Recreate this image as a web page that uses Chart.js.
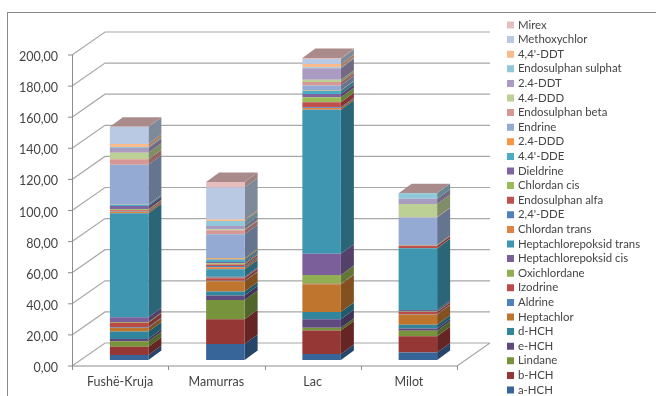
<!DOCTYPE html>
<html>
<head>
<meta charset="utf-8">
<style>
  html, body { margin: 0; padding: 0; background: #fff; }
  #wrap { position: relative; width: 656px; height: 396px; overflow: hidden; }
  #frame { position: absolute; left: 7px; top: 12px; right: -2px; bottom: -2px;
           border-left: 1px solid #8a8a8a; border-top: 1px solid #8a8a8a; }
  canvas { display: block; }
</style>
<script src="https://cdn.jsdelivr.net/npm/chart.js@4/dist/chart.umd.js"></script>
</head>
<body>
<div id="wrap"><canvas id="c" width="656" height="396"></canvas><div id="frame"></div></div>
<script>
const categories = ["Fushë-Kruja", "Mamurras", "Lac", "Milot"];
const yTicks = [0, 20, 40, 60, 80, 100, 120, 140, 160, 180, 200];

// Residue per site, listed from the bottom of each stack upward.
const aHCH        = [3.2, 10.3, 3.9, 4.9];
const bHCH        = [5.4, 15.9, 15.0, 10.3];
const lindane     = [3.4, 12.4, 1.9, 3.6];
const eHCH        = [1.5, 2.8, 5.4, 1.5];
const dHCH        = [4.9, 2.6, 4.7, 2.4];
const heptachlor  = [2.4, 6.6, 17.8, 6.6];
const aldrine     = [0.4, 0.4, 0.2, 0.3];
const izodrine    = [2.8, 1.5, 0.2, 1.3];
const oxichlordane = [0.5, 0.4, 5.6, 0.3];
const heptCis     = [3.0, 0.6, 13.7, 1.0];
const heptTrans   = [66.9, 4.9, 92.6, 39.7];
const chlordanTrans = [1.0, 1.2, 1.1, 0.1];
const dde24       = [0.2, 0.8, 0.4, 0.1];
const endoAlfa    = [0.7, 1.0, 3.2, 1.4];
const chlordanCis = [0.6, 0.8, 3.2, 0.1];
const dieldrine   = [2.1, 0.8, 2.1, 0.1];
const dde44       = [0.8, 1.6, 2.1, 0.1];
const ddd24       = [0.2, 0.9, 0.3, 0.1];
const endrine     = [25.5, 15.4, 3.2, 17.8];
const endoBeta    = [3.6, 2.6, 2.1, 0.2];
const ddd44       = [4.1, 0.6, 1.5, 8.4];
const ddt24       = [3.2, 2.1, 7.5, 3.4];
const endoSulphat = [0.6, 3.2, 0.6, 3.6];
const ddt44       = [1.9, 0.9, 2.1, 0];
const methoxychlor = [11.0, 20.6, 3.2, 0];
const mirex       = [0.1, 3.6, 0.6, 0];

const seriesNames = ["a-HCH", "b-HCH", "Lindane", "e-HCH", "d-HCH", "Heptachlor", "Aldrine", "Izodrine",
  "Oxichlordane", "Heptachlorepoksid cis", "Heptachlorepoksid trans", "Chlordan trans", "2,4'-DDE",
  "Endosulphan alfa", "Chlordan cis", "Dieldrine", "4.4'-DDE", "2.4-DDD", "Endrine", "Endosulphan beta",
  "4.4-DDD", "2.4-DDT", "Endosulphan sulphat", "4,4'-DDT", "Methoxychlor", "Mirex"];
const seriesValues = [aHCH, bHCH, lindane, eHCH, dHCH, heptachlor, aldrine, izodrine, oxichlordane, heptCis,
  heptTrans, chlordanTrans, dde24, endoAlfa, chlordanCis, dieldrine, dde44, ddd24, endrine, endoBeta, ddd44,
  ddt24, endoSulphat, ddt44, methoxychlor, mirex];
const seriesColors = ["#37659A", "#953735", "#77933C", "#5F4A80", "#31859C", "#C0752F", "#4F81BD", "#BC4A47",
  "#92AE52", "#7A5F9A", "#3F96B1", "#DF8344", "#4F81BD", "#C0504D", "#9BBB59", "#8064A2", "#4BACC6", "#F79646",
  "#95AAD3", "#D79895", "#BCD096", "#A99BC2", "#91C8D9", "#FABA8D", "#B9C9E3", "#E6BEBD"];

const TEXT = "#444444", WALL = "#a8a8a8", AXIS = "#8c8c8c", ROOF = "#A98B8C";
// Pseudo-3D geometry: bars stand between the front edge and the back wall of the floor.
const FRONT = { dx: -9, dy: 6 }, BACK = { dx: 24, dy: -17 }, BAR_DEPTH = { dx: 13, dy: -9.5 };

function shade(hex, k) {
  const n = parseInt(hex.slice(1), 16);
  return "rgb(" + [(n >> 16) & 255, (n >> 8) & 255, n & 255].map(v => Math.round(v * k)).join(",") + ")";
}

function face(ctx, pts, fill) {
  ctx.beginPath();
  pts.forEach((p, i) => i ? ctx.lineTo(p[0], p[1]) : ctx.moveTo(p[0], p[1]));
  ctx.closePath();
  ctx.fillStyle = fill;
  ctx.fill();
}

const box3d = {
  id: "box3d",
  afterLayout(chart) {
    // Sit the legend in the far right column of the canvas; the lower bound runs
    // past the canvas edge so the last row stays in the same column.
    const lg = chart.legend;
    lg.left = 505.55; lg.right = chart.width;
    lg.top = 16.1; lg.bottom = chart.height + 20;
  },
  beforeDatasetsDraw(chart) {
    const { ctx, chartArea: a, scales: { x, y } } = chart;
    const fx = a.left + FRONT.dx, bx = a.left + BACK.dx;
    const rx = a.right + FRONT.dx;
    ctx.save();
    ctx.lineWidth = 1.2;
    ctx.strokeStyle = WALL;
    ctx.beginPath();
    y.ticks.forEach(t => {
      const py = y.getPixelForValue(t.value);
      ctx.moveTo(fx, py + FRONT.dy);
      ctx.lineTo(bx, py + BACK.dy);
      ctx.lineTo(a.right + BACK.dx, py + BACK.dy);
    });
    const base = y.getPixelForValue(0);
    ctx.moveTo(rx, base + FRONT.dy);
    ctx.lineTo(a.right + BACK.dx, base + BACK.dy);
    ctx.stroke();

    ctx.strokeStyle = AXIS;
    ctx.lineWidth = 1;
    ctx.beginPath();
    ctx.moveTo(fx + 0.5, y.getPixelForValue(200) + FRONT.dy);
    ctx.lineTo(fx + 0.5, base + FRONT.dy);
    ctx.lineTo(rx, base + FRONT.dy);
    y.ticks.forEach(t => {
      const py = y.getPixelForValue(t.value) + FRONT.dy;
      ctx.moveTo(fx - 4, py);
      ctx.lineTo(fx, py);
    });
    const step = (a.right - a.left) / categories.length;
    for (let i = 0; i <= categories.length; i++) {
      const px = Math.round(fx + i * step) + 0.5;
      ctx.moveTo(px, base + FRONT.dy);
      ctx.lineTo(px, base + FRONT.dy + 4);
    }
    ctx.stroke();

    // Right-hand faces of every segment, then the roof of each stack.
    chart.data.datasets.forEach((ds, di) => {
      chart.getDatasetMeta(di).data.forEach(bar => {
        if (Math.abs(bar.base - bar.y) < 0.01) return;
        const r = bar.x + bar.width / 2;
        face(ctx, [[r, bar.y], [r + BAR_DEPTH.dx, bar.y + BAR_DEPTH.dy],
          [r + BAR_DEPTH.dx, bar.base + BAR_DEPTH.dy], [r, bar.base]], shade(seriesColors[di], 0.68));
      });
    });
    categories.forEach((_, ci) => {
      const segs = chart.data.datasets.map((_, di) => chart.getDatasetMeta(di).data[ci]);
      const topY = Math.min(...segs.map(s => s.y));
      const l = segs[0].x - segs[0].width / 2, r = l + segs[0].width;
      face(ctx, [[l, topY], [r, topY], [r + BAR_DEPTH.dx, topY + BAR_DEPTH.dy],
        [l + BAR_DEPTH.dx, topY + BAR_DEPTH.dy]], ROOF);
    });
    ctx.restore();
  }
};

new Chart(document.getElementById("c"), {
  type: "bar",
  data: {
    labels: categories,
    datasets: seriesNames.map((name, i) => ({
      label: name,
      data: seriesValues[i],
      backgroundColor: seriesColors[i],
      borderWidth: 0,
      barPercentage: 1,
      categoryPercentage: 0.4
    }))
  },
  options: {
    responsive: false,
    animation: false,
    events: [],
    layout: { padding: { right: 90 } },
    scales: {
      x: {
        stacked: true,
        grid: { display: false, drawTicks: false },
        border: { display: false },
        afterFit(s) { s.height = 36; },
        ticks: { padding: 14, labelOffset: -9, autoSkip: false, maxRotation: 0, color: TEXT,
                 font: { family: "Lato", size: 12.5 } }
      },
      y: {
        stacked: true,
        min: 0,
        max: 200,
        grid: { display: false, drawTicks: false },
        border: { display: false },
        afterFit(s) { s.width = 81; },
        afterBuildTicks(s) { s.ticks = yTicks.map(value => ({ value })); },
        ticks: { padding: 23, labelOffset: 8, color: TEXT,
                 font: { family: "Lato", size: 12.5 },
                 callback: v => Number(v).toFixed(2).replace(".", ",") }
      }
    },
    plugins: {
      tooltip: { enabled: false },
      // Blank title reserves the head room above the bar plane.
      title: { display: true, text: "", font: { size: 10, lineHeight: 1 }, padding: { top: 0, bottom: 39 } },
      legend: {
        position: "right",
        align: "start",
        maxWidth: 100,
        reverse: true,
        labels: {
          boxWidth: 3.5,
          boxHeight: 3.5,
          padding: 3.2,
          color: TEXT,
          font: { family: "Lato", size: 11.4 },
          generateLabels(chart) {
            return Chart.defaults.plugins.legend.labels.generateLabels(chart).map(item =>
              Object.assign(item, { lineWidth: 3.5, strokeStyle: item.fillStyle }));
          }
        }
      }
    }
  },
  plugins: [box3d]
});
</script>
</body>
</html>
